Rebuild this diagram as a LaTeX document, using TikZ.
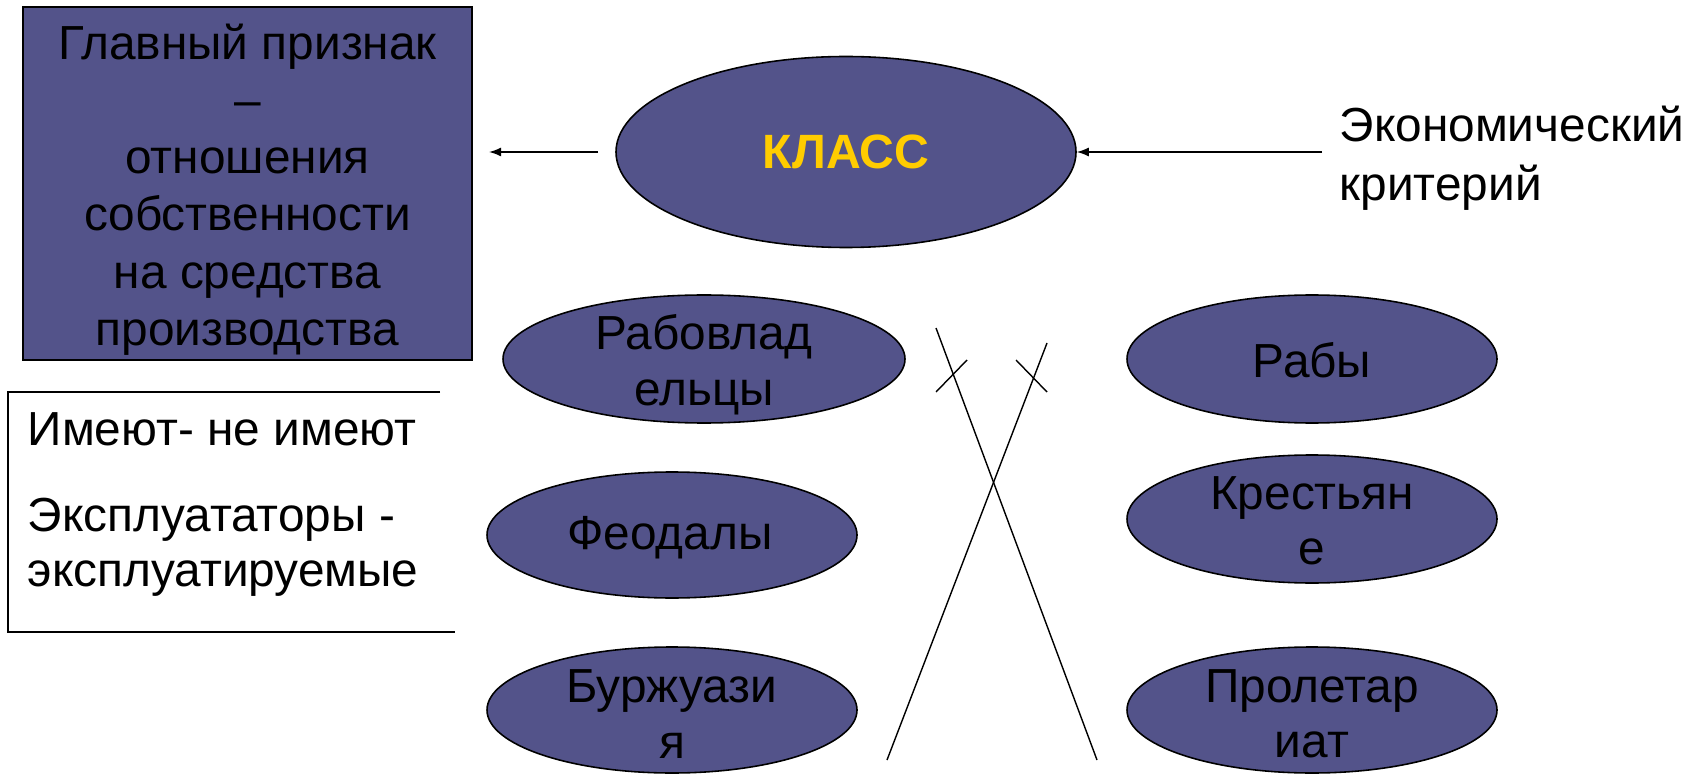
\documentclass[tikz,border=0pt]{standalone}
\usepackage{fontspec}
\setmainfont{Liberation Sans}
\usepackage{tikz}
\usetikzlibrary{shapes, arrows.meta, positioning}
\usepackage{xcolor}
\definecolor{slate}{RGB}{83,83,138}
\definecolor{gold}{RGB}{255,204,0}

\begin{document}
\begin{tikzpicture}[font=\fontsize{13.6}{15.8}\selectfont,
  cls/.style={ellipse, draw, fill=slate, line width=0.45pt, inner sep=0pt},
  ctext/.style={align=center, inner sep=0pt},
  arr/.style={-{Latex[length=1.2mm,width=0.9mm]}, line width=0.4pt}]

\useasboundingbox (0,0) rectangle (16.95,-7.74);

\node[draw, fill=slate, line width=0.6pt, minimum width=4.49cm, minimum height=3.53cm] (sign) at (2.475,-1.835) {};
\node[ctext, font=\fontsize{13.6}{16.3}\selectfont] (signt) at ([yshift=-0.06cm]sign.center) {Главный признак\\--\\отношения\\собственности\\на средства\\производства};

\node[cls, minimum width=4.60cm, minimum height=1.91cm] (klass) at (8.46,-1.52) {};
\node[ctext, text=gold, font=\fontsize{13.7}{16}\selectfont\bfseries] (klasst) at (klass) {КЛАСС};

\node[ctext, anchor=north west, align=left, font=\fontsize{13.6}{17}\selectfont] (crit) at (13.39,-1.05) {Экономический\\критерий};

\draw [arr, shorten <=0.17cm, shorten >=0.16cm] (klass.west) -- (klass.west -| sign.east);
\draw [arr, shorten <=0.17cm] (crit.west |- klass.east) -- (klass.east);

\node[cls, minimum width=4.02cm, minimum height=1.28cm] (owners) at (7.04,-3.59) {};
\node[ctext] (ownerst) at (7.04,-3.65) {Рабовлад\\ельцы};
\node[cls, minimum width=3.70cm, minimum height=1.28cm] (slaves) at (13.12,-3.59) {};
\node[ctext] (slavest) at (13.12,-3.60) {Рабы};

\node[cls, minimum width=3.70cm, minimum height=1.26cm] (feudals) at (6.72,-5.35) {};
\node[ctext] (feudalst) at (6.70,-5.38) {Феодалы};
\node[cls, minimum width=3.70cm, minimum height=1.28cm] (peasants) at (13.12,-5.19) {};
\node[ctext] (peasantst) at (13.12,-5.21) {Крестьян\\е};

\node[cls, minimum width=3.70cm, minimum height=1.26cm] (bourg) at (6.72,-7.10) {};
\node[ctext] (bourgt) at (6.72,-7.14) {Буржуази\\я};
\node[cls, minimum width=3.70cm, minimum height=1.26cm] (prolet) at (13.12,-7.10) {};
\node[ctext] (prolett) at (13.12,-7.14) {Пролетар\\иат};

\node[ctext, anchor=north west, align=left] (haves) at (0.27,-4.12) {Имеют- не имеют\\[0.3cm]Эксплуататоры -\\эксплуатируемые};
\draw [line width=0.5pt] (4.40,-3.92) -- (0.08,-3.92) -- (0.08,-6.32) -- (4.55,-6.32);

% crossed-out lines
\draw [line width=0.4pt] (9.36,-3.28) -- (10.97,-7.60);
\draw [line width=0.4pt] (10.47,-3.43) -- (8.87,-7.60);
\draw [line width=0.4pt] (9.36,-3.92) -- (9.67,-3.60);
\draw [line width=0.4pt] (10.16,-3.60) -- (10.47,-3.92);

\end{tikzpicture}
\end{document}
